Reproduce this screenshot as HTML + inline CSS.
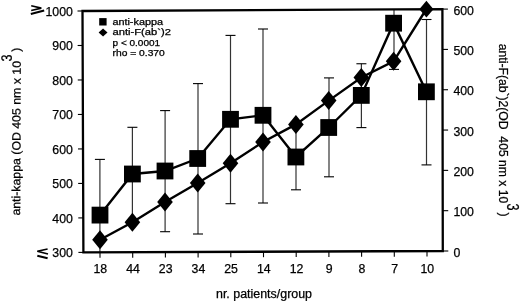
<!DOCTYPE html><html><head><meta charset="utf-8"><style>
html,body{margin:0;padding:0;background:#fff;}
body{width:520px;height:301px;overflow:hidden;}
svg{display:block;will-change:transform;}
text{font-family:"Liberation Sans", sans-serif;fill:#000;stroke:#000;stroke-width:0.25px;}
</style></head><body>
<svg width="520" height="301" viewBox="0 0 520 301">
<line x1="99.9" y1="159.4" x2="99.9" y2="252.0" stroke="#333" stroke-width="1.2"/>
<line x1="94.9" y1="159.4" x2="104.9" y2="159.4" stroke="#000" stroke-width="1.1"/>
<line x1="132.4" y1="127.3" x2="132.4" y2="220.7" stroke="#333" stroke-width="1.2"/>
<line x1="127.4" y1="127.3" x2="137.4" y2="127.3" stroke="#000" stroke-width="1.1"/>
<line x1="127.4" y1="220.7" x2="137.4" y2="220.7" stroke="#000" stroke-width="1.1"/>
<line x1="165.1" y1="110.6" x2="165.1" y2="231.7" stroke="#333" stroke-width="1.2"/>
<line x1="160.1" y1="110.6" x2="170.1" y2="110.6" stroke="#000" stroke-width="1.1"/>
<line x1="160.1" y1="231.7" x2="170.1" y2="231.7" stroke="#000" stroke-width="1.1"/>
<line x1="198.0" y1="83.6" x2="198.0" y2="234.0" stroke="#333" stroke-width="1.2"/>
<line x1="193.0" y1="83.6" x2="203.0" y2="83.6" stroke="#000" stroke-width="1.1"/>
<line x1="193.0" y1="234.0" x2="203.0" y2="234.0" stroke="#000" stroke-width="1.1"/>
<line x1="230.5" y1="35.4" x2="230.5" y2="203.7" stroke="#333" stroke-width="1.2"/>
<line x1="225.5" y1="35.4" x2="235.5" y2="35.4" stroke="#000" stroke-width="1.1"/>
<line x1="225.5" y1="203.7" x2="235.5" y2="203.7" stroke="#000" stroke-width="1.1"/>
<line x1="263.0" y1="29.0" x2="263.0" y2="203.0" stroke="#333" stroke-width="1.2"/>
<line x1="258.0" y1="29.0" x2="268.0" y2="29.0" stroke="#000" stroke-width="1.1"/>
<line x1="258.0" y1="203.0" x2="268.0" y2="203.0" stroke="#000" stroke-width="1.1"/>
<line x1="296.0" y1="124.2" x2="296.0" y2="189.8" stroke="#333" stroke-width="1.2"/>
<line x1="291.0" y1="124.2" x2="301.0" y2="124.2" stroke="#000" stroke-width="1.1"/>
<line x1="291.0" y1="189.8" x2="301.0" y2="189.8" stroke="#000" stroke-width="1.1"/>
<line x1="329.0" y1="77.9" x2="329.0" y2="176.8" stroke="#333" stroke-width="1.2"/>
<line x1="324.0" y1="77.9" x2="334.0" y2="77.9" stroke="#000" stroke-width="1.1"/>
<line x1="324.0" y1="176.8" x2="334.0" y2="176.8" stroke="#000" stroke-width="1.1"/>
<line x1="361.4" y1="63.75" x2="361.4" y2="127.6" stroke="#333" stroke-width="1.2"/>
<line x1="356.4" y1="63.75" x2="366.4" y2="63.75" stroke="#000" stroke-width="1.1"/>
<line x1="356.4" y1="127.6" x2="366.4" y2="127.6" stroke="#000" stroke-width="1.1"/>
<line x1="394.0" y1="10.0" x2="394.0" y2="69.4" stroke="#333" stroke-width="1.2"/>
<line x1="389.0" y1="69.4" x2="399.0" y2="69.4" stroke="#000" stroke-width="1.1"/>
<line x1="426.5" y1="19.5" x2="426.5" y2="164.9" stroke="#333" stroke-width="1.2"/>
<line x1="421.5" y1="19.5" x2="431.5" y2="19.5" stroke="#000" stroke-width="1.1"/>
<line x1="421.5" y1="164.9" x2="431.5" y2="164.9" stroke="#000" stroke-width="1.1"/>
<polyline points="100.0,215.1 132.4,174.0 165.0,171.0 197.7,158.5 230.5,119.3 263.0,115.3 295.9,157.0 328.7,127.5 361.3,95.4 393.6,23.2 426.4,91.8" fill="none" stroke="#000" stroke-width="2.4" stroke-linejoin="miter"/>
<polyline points="100.0,239.7 132.4,222.3 165.0,202.0 197.7,183.0 230.5,163.3 263.0,142.0 295.9,124.4 328.7,100.6 361.3,77.5 393.6,61.3 426.4,9.0" fill="none" stroke="#000" stroke-width="2.4" stroke-linejoin="miter"/>
<rect x="91.60" y="206.70" width="16.8" height="16.8" fill="#000"/>
<polygon points="100.0,230.2 107.8,239.7 100.0,249.2 92.2,239.7" fill="#000"/>
<rect x="124.00" y="165.60" width="16.8" height="16.8" fill="#000"/>
<polygon points="132.4,212.8 140.20000000000002,222.3 132.4,231.8 124.60000000000001,222.3" fill="#000"/>
<rect x="156.60" y="162.60" width="16.8" height="16.8" fill="#000"/>
<polygon points="165.0,192.5 172.8,202.0 165.0,211.5 157.2,202.0" fill="#000"/>
<rect x="189.30" y="150.10" width="16.8" height="16.8" fill="#000"/>
<polygon points="197.7,173.5 205.5,183.0 197.7,192.5 189.89999999999998,183.0" fill="#000"/>
<rect x="222.10" y="110.90" width="16.8" height="16.8" fill="#000"/>
<polygon points="230.5,153.8 238.3,163.3 230.5,172.8 222.7,163.3" fill="#000"/>
<rect x="254.60" y="106.90" width="16.8" height="16.8" fill="#000"/>
<polygon points="263.0,132.5 270.8,142.0 263.0,151.5 255.2,142.0" fill="#000"/>
<rect x="287.50" y="148.60" width="16.8" height="16.8" fill="#000"/>
<polygon points="295.9,114.9 303.7,124.4 295.9,133.9 288.09999999999997,124.4" fill="#000"/>
<rect x="320.30" y="119.10" width="16.8" height="16.8" fill="#000"/>
<polygon points="328.7,91.1 336.5,100.6 328.7,110.1 320.9,100.6" fill="#000"/>
<rect x="352.90" y="87.00" width="16.8" height="16.8" fill="#000"/>
<polygon points="361.3,68.0 369.1,77.5 361.3,87.0 353.5,77.5" fill="#000"/>
<rect x="385.20" y="14.80" width="16.8" height="16.8" fill="#000"/>
<polygon points="393.6,51.8 401.40000000000003,61.3 393.6,70.8 385.8,61.3" fill="#000"/>
<rect x="418.00" y="83.40" width="16.8" height="16.8" fill="#000"/>
<polygon points="426.4,0.7999999999999989 433.5,9.2 426.4,17.6 419.29999999999995,9.2" fill="#000"/>
<polygon points="82.5,11.0 442.4,9.1 442.8,251.0 83.4,252.4" fill="none" stroke="#000" stroke-width="2.3"/>
<line x1="77.50" y1="11.00" x2="82.50" y2="11.00" stroke="#000" stroke-width="1.1"/>
<text x="72.9" y="16.00" font-size="12.3" text-anchor="end">1000</text>
<line x1="77.63" y1="45.49" x2="82.63" y2="45.49" stroke="#000" stroke-width="1.1"/>
<text x="72.9" y="50.49" font-size="12.3" text-anchor="end">900</text>
<line x1="77.76" y1="79.97" x2="82.76" y2="79.97" stroke="#000" stroke-width="1.1"/>
<text x="72.9" y="84.97" font-size="12.3" text-anchor="end">800</text>
<line x1="77.89" y1="114.46" x2="82.89" y2="114.46" stroke="#000" stroke-width="1.1"/>
<text x="72.9" y="119.46" font-size="12.3" text-anchor="end">700</text>
<line x1="78.01" y1="148.94" x2="83.01" y2="148.94" stroke="#000" stroke-width="1.1"/>
<text x="72.9" y="153.94" font-size="12.3" text-anchor="end">600</text>
<line x1="78.14" y1="183.43" x2="83.14" y2="183.43" stroke="#000" stroke-width="1.1"/>
<text x="72.9" y="188.43" font-size="12.3" text-anchor="end">500</text>
<line x1="78.27" y1="217.91" x2="83.27" y2="217.91" stroke="#000" stroke-width="1.1"/>
<text x="72.9" y="222.91" font-size="12.3" text-anchor="end">400</text>
<line x1="78.40" y1="252.40" x2="83.40" y2="252.40" stroke="#000" stroke-width="1.1"/>
<text x="72.9" y="257.40" font-size="12.3" text-anchor="end">300</text>
<line x1="442.40" y1="9.10" x2="447.90" y2="9.10" stroke="#000" stroke-width="1.1"/>
<text x="453.4" y="14.70" font-size="12.3">600</text>
<line x1="442.47" y1="49.42" x2="447.97" y2="49.42" stroke="#000" stroke-width="1.1"/>
<text x="453.4" y="55.02" font-size="12.3">500</text>
<line x1="442.53" y1="89.73" x2="448.03" y2="89.73" stroke="#000" stroke-width="1.1"/>
<text x="453.4" y="95.33" font-size="12.3">400</text>
<line x1="442.60" y1="130.05" x2="448.10" y2="130.05" stroke="#000" stroke-width="1.1"/>
<text x="453.4" y="135.65" font-size="12.3">300</text>
<line x1="442.67" y1="170.37" x2="448.17" y2="170.37" stroke="#000" stroke-width="1.1"/>
<text x="453.4" y="175.97" font-size="12.3">200</text>
<line x1="442.73" y1="210.68" x2="448.23" y2="210.68" stroke="#000" stroke-width="1.1"/>
<text x="453.4" y="216.28" font-size="12.3">100</text>
<line x1="442.80" y1="251.00" x2="448.30" y2="251.00" stroke="#000" stroke-width="1.1"/>
<text x="453.4" y="256.60" font-size="12.3">0</text>
<line x1="100.0" y1="252.34" x2="100.0" y2="257.84" stroke="#000" stroke-width="1.1"/>
<text x="100.30" y="272.7" font-size="12.3" text-anchor="middle">18</text>
<line x1="132.7" y1="252.21" x2="132.7" y2="257.71" stroke="#000" stroke-width="1.1"/>
<text x="133.00" y="272.7" font-size="12.3" text-anchor="middle">44</text>
<line x1="165.4" y1="252.08" x2="165.4" y2="257.58" stroke="#000" stroke-width="1.1"/>
<text x="165.70" y="272.7" font-size="12.3" text-anchor="middle">23</text>
<line x1="198.1" y1="251.95" x2="198.1" y2="257.45" stroke="#000" stroke-width="1.1"/>
<text x="198.40" y="272.7" font-size="12.3" text-anchor="middle">34</text>
<line x1="230.8" y1="251.83" x2="230.8" y2="257.33" stroke="#000" stroke-width="1.1"/>
<text x="231.10" y="272.7" font-size="12.3" text-anchor="middle">25</text>
<line x1="263.5" y1="251.70" x2="263.5" y2="257.20" stroke="#000" stroke-width="1.1"/>
<text x="263.80" y="272.7" font-size="12.3" text-anchor="middle">14</text>
<line x1="296.2" y1="251.57" x2="296.2" y2="257.07" stroke="#000" stroke-width="1.1"/>
<text x="296.50" y="272.7" font-size="12.3" text-anchor="middle">12</text>
<line x1="328.9" y1="251.44" x2="328.9" y2="256.94" stroke="#000" stroke-width="1.1"/>
<text x="329.20" y="272.7" font-size="12.3" text-anchor="middle">9</text>
<line x1="361.6" y1="251.32" x2="361.6" y2="256.82" stroke="#000" stroke-width="1.1"/>
<text x="361.90" y="272.7" font-size="12.3" text-anchor="middle">8</text>
<line x1="394.3" y1="251.19" x2="394.3" y2="256.69" stroke="#000" stroke-width="1.1"/>
<text x="394.60" y="272.7" font-size="12.3" text-anchor="middle">7</text>
<line x1="427.0" y1="251.06" x2="427.0" y2="256.56" stroke="#000" stroke-width="1.1"/>
<text x="427.30" y="272.7" font-size="12.3" text-anchor="middle">10</text>
<text x="216" y="297.8" font-size="12" textLength="96" lengthAdjust="spacingAndGlyphs">nr. patients/group</text>
<text transform="translate(20.1,215.6) rotate(-89.75)" font-size="12" textLength="154.6" lengthAdjust="spacingAndGlyphs">anti-kappa (OD 405 nm x 10</text>
<text transform="translate(11.8,61.6) rotate(-89.6)" font-size="15" textLength="7" lengthAdjust="spacingAndGlyphs">3</text>
<text transform="translate(20.2,51.8) rotate(-89.6)" font-size="12">)</text>
<text transform="translate(498.8,43.8) rotate(90)" font-size="12" textLength="159.5" lengthAdjust="spacingAndGlyphs">anti-F(ab`)2(OD&#160; 405 nm x 10</text>
<text transform="translate(507.0,203.4) rotate(90)" font-size="16.5" textLength="7" lengthAdjust="spacingAndGlyphs">3</text>
<text transform="translate(499.6,212.4) rotate(90)" font-size="12">)</text>
<rect x="99.2" y="18.1" width="7.4" height="7.4" fill="#000"/>
<polygon points="103.05,28.6 107.5,32.6 103.05,36.6 98.6,32.6" fill="#000"/>
<g font-size="8.3" stroke="#000" stroke-width="0.2">
<text x="112.4" y="24.7" textLength="50.6" lengthAdjust="spacingAndGlyphs">anti-kappa</text>
<text x="112.6" y="35.3" textLength="58.3" lengthAdjust="spacingAndGlyphs">anti-F(ab`)2</text>
<text x="112.6" y="45.8" textLength="47.5" lengthAdjust="spacingAndGlyphs">p &lt; 0.0001</text>
<text x="112.6" y="56" textLength="52.2" lengthAdjust="spacingAndGlyphs">rho = 0.370</text>
</g>
<path d="M31.2,5.7 L41.3,8.1 L31.2,10.5" fill="none" stroke="#000" stroke-width="1.6"/>
<path d="M30.8,14.1 L44.2,10.6" fill="none" stroke="#000" stroke-width="2.1"/>
<path d="M47.6,249 L37.3,251.3 L48,254" fill="none" stroke="#000" stroke-width="1.6"/>
<path d="M37.3,255.8 L47.6,258.3" fill="none" stroke="#000" stroke-width="2.2"/>
</svg></body></html>
